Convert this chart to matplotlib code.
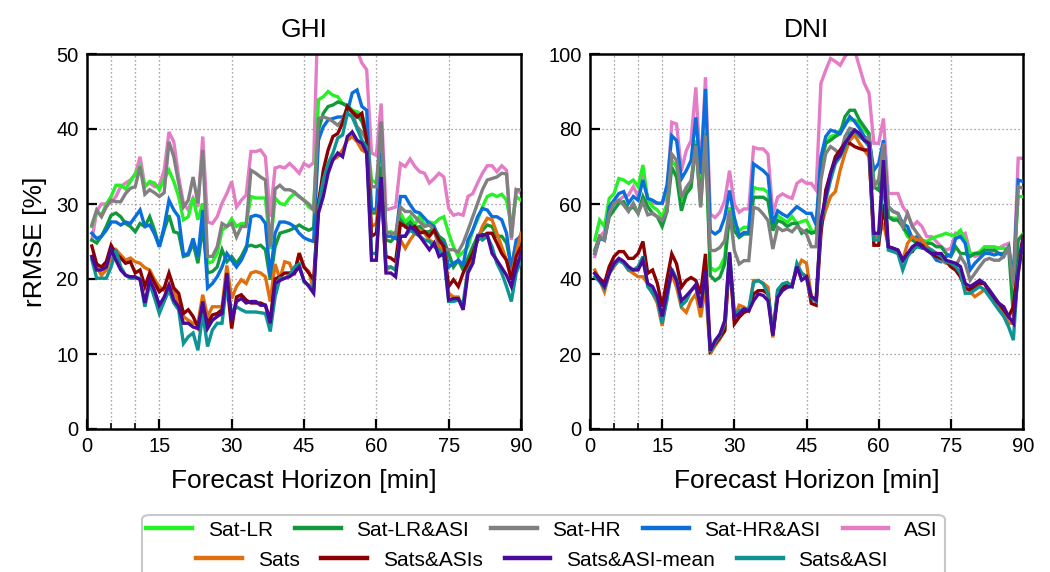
import matplotlib
matplotlib.use("Agg")
import matplotlib.pyplot as plt
from matplotlib.patches import FancyBboxPatch
from matplotlib.lines import Line2D
from matplotlib.ticker import MultipleLocator, FixedLocator

plt.rcParams['font.family'] = ['Liberation Sans', 'DejaVu Sans']

horizon = list(range(1, 91))

labels = ["Sat-LR", "Sat-LR&ASI", "Sat-HR", "Sat-HR&ASI", "ASI",
          "Sats", "Sats&ASIs", "Sats&ASI-mean", "Sats&ASI"]
colors = ["#26f026", "#129a3a", "#808080", "#0a6fdc", "#e47cc6",
          "#e0700e", "#8b0000", "#4a0a9c", "#0e9494"]

# ---------------- GHI ----------------
ghi_sat_lr = [27.0, 29.0, 28.5, 30.0, 31.0, 32.5, 32.5, 32.0, 33.0, 34.0,
              35.0, 32.3, 33.0, 32.8, 31.9, 33.3, 34.5, 33.0, 31.0, 27.9,
              28.3, 30.8, 27.9, 30.1, 22.1, 22.3, 23.4, 26.5, 27.0, 28.0,
              27.0, 27.4, 27.4, 31.0, 30.8, 30.8, 30.8, 24.0, 30.8, 30.1,
              29.9, 30.8, 31.4, 31.0, 30.5, 29.6, 29.2,
              43.9, 44.3, 45.0, 44.5, 44.3, 43.4, 43.2, 42.5, 42.3, 41.9,
              39.9, 33.2, 32.8, 38.0, 26.1, 26.3, 26.0, 28.8, 27.6, 28.3,
              27.2, 28.5, 27.2, 27.6, 27.4, 28.0, 28.3, 26.1, 24.3, 23.0,
              23.6, 24.3, 26.5, 27.9, 29.6, 31.0, 31.3, 31.0, 31.3, 30.5,
              27.0, 31.0, 30.5]
ghi_sat_lr_asi = [25.2, 24.8, 25.7, 27.0, 28.5, 28.8, 28.3, 27.4, 27.0, 26.3,
                  27.4, 27.0, 28.3, 26.5, 24.3, 26.5, 28.5, 26.3, 26.1, 23.0,
                  23.2, 24.8, 22.1, 27.0, 20.8, 21.0, 21.6, 23.9, 22.3, 23.0,
                  22.1, 23.0, 24.3, 24.5, 24.3, 24.5, 23.9, 19.9, 24.3, 26.1,
                  26.3, 26.5, 26.8, 27.2, 26.8, 26.5, 26.8,
                  39.9, 42.1, 43.0, 43.2, 43.6, 43.4, 43.0, 42.3, 41.9, 41.0,
                  39.0, 28.8, 28.8, 35.0, 25.2, 25.0, 25.7, 27.9, 27.0, 27.6,
                  26.8, 27.0, 26.3, 26.3, 26.8, 25.7, 25.2, 23.4, 21.6, 22.5,
                  21.2, 22.8, 24.3, 25.7, 26.5, 27.2, 27.0, 25.7, 25.7, 24.8,
                  21.6, 24.8, 25.9]
ghi_sat_hr = [27.2, 29.2, 28.3, 29.6, 30.5, 30.3, 30.3, 31.4, 32.1, 32.3,
              35.0, 31.3, 31.9, 31.5, 31.0, 31.5, 38.3, 36.3, 32.8, 29.6,
              30.5, 33.6, 30.1, 37.2, 23.0, 23.0, 24.3, 27.4, 27.0, 27.4,
              25.6, 27.0, 27.0, 34.5, 34.1, 33.6, 33.2, 24.3, 32.0, 32.5,
              31.9, 31.9, 31.6, 31.0, 30.5, 30.0, 29.2,
              41.4, 41.6, 41.4, 41.0, 40.5, 41.2, 43.0, 42.1, 40.3, 39.6,
              38.5, 32.3, 32.3, 41.0, 26.3, 26.1, 26.0, 29.6, 29.0, 29.0,
              28.3, 27.6, 27.0, 27.2, 26.5, 24.3, 23.9, 23.9, 23.9, 23.6,
              24.8, 26.5, 28.3, 30.1, 31.9, 33.2, 33.4, 33.6, 34.1, 34.0,
              25.5, 31.9, 31.9]
ghi_sat_hr_asi = [26.1, 25.4, 25.7, 26.5, 27.6, 27.6, 27.2, 27.6, 27.4, 28.3,
                  29.2, 27.0, 27.2, 26.0, 24.3, 27.0, 30.5, 29.2, 28.3, 23.2,
                  23.4, 25.4, 23.0, 29.2, 18.8, 19.4, 20.3, 21.6, 23.4, 22.5,
                  21.6, 22.5, 23.9, 28.3, 28.5, 28.3, 27.4, 20.3, 26.1, 27.6,
                  27.6, 27.4, 27.0, 26.1, 25.5, 25.2, 25.0,
                  38.5, 40.3, 41.2, 41.4, 41.6, 41.6, 42.3, 44.8, 45.2, 43.0,
                  42.5, 29.2, 29.4, 40.8, 25.7, 25.7, 25.4, 31.0, 31.0, 29.9,
                  29.0, 28.8, 28.1, 27.4, 27.0, 25.2, 24.8, 21.6, 22.1, 22.5,
                  21.9, 25.2, 26.5, 28.3, 29.4, 29.2, 28.3, 28.3, 27.9, 26.1,
                  21.2, 25.2, 25.7]
ghi_asi = [25.2, 29.0, 30.0, 30.0, 30.2, 31.0, 32.3, 32.8, 33.2, 34.0,
           36.3, 32.4, 32.8, 32.3, 32.5, 34.5, 39.6, 38.3, 33.6, 30.1,
           29.2, 30.8, 29.6, 39.0, 27.6, 27.4, 28.3, 30.1, 31.4, 33.0,
           29.6, 30.5, 31.2, 37.0, 37.0, 37.2, 36.3, 28.3, 34.8, 35.0,
           34.8, 35.4, 34.8, 34.1, 35.4, 35.0, 35.5,
           58.0, 62.0, 64.0, 63.0, 62.0, 60.0, 58.0, 55.0, 50.5, 48.8,
           47.9, 36.8, 36.5, 43.4, 29.2, 29.4, 29.6, 35.4, 35.0, 36.0,
           35.0, 34.3, 34.1, 32.8, 33.4, 34.1, 33.6, 29.4, 28.5, 28.7,
           28.5, 31.0, 31.4, 32.8, 34.1, 35.1, 35.1, 34.3, 35.1, 34.5,
           25.2, 31.9, 31.4]
ghi_sats = [23.0, 21.6, 20.5, 21.2, 23.0, 23.9, 23.2, 22.5, 22.8, 22.3,
            22.1, 21.5, 21.2, 19.9, 19.0, 18.5, 19.2, 18.5, 16.8, 15.0,
            14.5, 14.1, 14.1, 17.9, 15.0, 16.3, 16.3, 16.3, 21.8, 17.4,
            19.0, 19.9, 19.4, 20.8, 21.0, 20.8, 20.3, 17.0, 22.0, 20.0,
            22.3, 22.1, 20.5, 23.5, 21.6, 21.0, 18.5,
            30.5, 33.2, 35.0, 35.9, 36.3, 37.2, 38.5, 39.0, 38.3, 37.2,
            36.8, 27.0, 27.4, 33.0, 21.2, 21.6, 21.2, 25.2, 24.1, 25.2,
            26.1, 26.5, 26.1, 25.2, 24.8, 24.3, 23.9, 18.1, 17.6, 17.6,
            15.9, 21.6, 23.0, 25.2, 27.0, 28.1, 27.9, 26.1, 24.3, 22.5,
            20.3, 23.4, 26.1]
ghi_sats_asis = [24.4, 22.0, 21.6, 22.3, 24.5, 23.4, 22.8, 22.1, 22.3, 20.8,
                 21.2, 19.0, 20.8, 19.5, 18.3, 18.8, 20.8, 18.8, 18.1, 15.4,
                 15.9, 15.0, 13.6, 16.3, 14.1, 15.2, 15.4, 15.9, 19.5, 13.4,
                 17.6, 17.9, 17.2, 16.8, 16.8, 16.8, 16.5, 14.5, 20.0, 20.3,
                 20.8, 20.8, 20.8, 23.4, 21.6, 20.8, 19.9,
                 30.0, 34.5, 37.2, 39.0, 39.4, 40.8, 43.0, 42.3, 41.6, 42.1,
                 38.5, 25.7, 26.1, 33.0, 23.0, 22.8, 22.3, 27.4, 27.0, 26.5,
                 27.0, 26.1, 26.3, 25.7, 26.5, 25.2, 24.3, 19.0, 19.9, 19.0,
                 20.8, 22.1, 23.4, 25.2, 25.7, 26.1, 26.1, 24.8, 23.4, 22.5,
                 19.9, 23.0, 24.3]
ghi_sats_asi_mean = [23.0, 21.2, 21.2, 21.6, 23.9, 22.5, 21.2, 20.5, 20.3, 20.3,
                     19.9, 16.8, 19.9, 18.5, 16.5, 17.6, 19.2, 17.2, 16.3, 14.1,
                     14.1, 13.6, 13.4, 17.0, 13.4, 14.5, 15.0, 15.4, 20.8, 14.5,
                     17.0, 17.4, 16.8, 17.0, 17.0, 16.5, 16.5, 14.1, 19.4, 19.8,
                     20.1, 20.3, 20.8, 21.6, 19.8, 19.0, 18.1,
                     28.8, 31.0, 34.1, 35.9, 36.8, 36.3, 39.0, 39.6, 38.5, 38.1,
                     36.8, 22.5, 22.5, 33.6, 20.8, 20.8, 20.3, 25.7, 25.7, 27.0,
                     26.5, 25.7, 24.8, 23.9, 24.8, 23.0, 23.4, 17.2, 17.4, 17.4,
                     15.9, 20.8, 22.1, 25.7, 25.9, 25.9, 23.4, 22.5, 21.5, 20.5,
                     19.0, 21.5, 23.4]
ghi_sats_asi = [22.6, 20.1, 20.1, 20.1, 21.6, 23.9, 21.6, 20.5, 20.1, 20.1,
                20.1, 16.3, 19.4, 17.5, 15.4, 17.0, 18.5, 16.8, 15.9, 11.4,
                12.3, 12.8, 10.5, 15.4, 11.0, 13.2, 14.1, 14.1, 19.5, 15.4,
                16.3, 15.9, 15.6, 15.6, 15.6, 15.5, 15.4, 13.0, 17.6, 20.1,
                20.1, 20.5, 21.6, 22.0, 19.6, 19.2, 18.5,
                29.6, 33.2, 35.4, 36.8, 38.8, 39.2, 42.1, 41.6, 40.1, 38.5,
                37.6, 23.4, 23.4, 33.0, 21.6, 21.6, 21.2, 25.7, 25.7, 26.5,
                26.1, 25.7, 25.2, 25.0, 24.3, 23.9, 23.0, 17.0, 17.0, 17.2,
                16.8, 21.2, 22.1, 25.7, 25.2, 25.7, 24.3, 22.1, 20.8, 19.0,
                17.0, 20.8, 22.5]

# ---------------- DNI ----------------
dni_sat_lr = [50.4, 55.7, 54.0, 61.5, 62.8, 66.8, 66.4, 65.5, 66.4, 64.6,
              70.4, 61.0, 59.3, 58.4, 56.6, 60.0, 71.6, 69.8, 60.9, 63.6,
              65.3, 77.0, 62.0, 79.0, 43.1, 42.2, 43.1, 45.8, 59.1, 54.7,
              52.9, 53.8, 53.8, 64.4, 64.0, 64.0, 63.1, 53.3, 56.9, 56.0,
              55.1, 56.6, 54.8, 55.3, 55.7, 53.0, 52.2,
              70.0, 76.2, 78.0, 78.4, 79.7, 81.5, 82.4, 82.4, 81.5, 79.7,
              78.4, 66.4, 65.5, 75.0, 56.6, 56.2, 56.2, 54.0, 51.3, 50.4,
              50.8, 50.4, 50.0, 50.8, 51.3, 51.7, 52.2, 51.7, 51.7, 53.0,
              50.4, 46.8, 46.8, 47.3, 48.6, 48.6, 48.6, 48.2, 48.2, 47.7,
              41.5, 62.0, 62.0]
dni_sat_lr_asi = [47.7, 51.3, 50.4, 56.6, 58.4, 60.2, 60.6, 58.4, 59.3, 57.5,
                  62.0, 59.3, 57.5, 56.6, 54.0, 58.0, 69.8, 67.1, 58.2, 62.7,
                  64.4, 76.0, 60.0, 78.0, 40.9, 39.6, 40.5, 44.0, 57.3, 52.9,
                  51.1, 52.0, 52.0, 61.8, 61.8, 61.8, 60.9, 52.9, 55.6, 55.1,
                  54.0, 54.8, 54.8, 52.2, 53.0, 52.2, 52.6,
                  71.7, 76.2, 77.0, 78.0, 78.8, 83.3, 85.0, 85.0, 82.4, 80.6,
                  78.8, 64.6, 63.7, 74.0, 56.6, 55.7, 55.7, 54.0, 52.2, 50.4,
                  49.5, 48.6, 49.5, 49.5, 48.6, 48.6, 46.8, 46.0, 48.6, 46.8,
                  46.8, 46.0, 46.8, 46.8, 47.7, 47.7, 47.7, 46.8, 46.8, 48.6,
                  30.0, 50.4, 52.0]
dni_sat_hr = [46.8, 51.3, 50.4, 57.5, 60.2, 61.0, 59.7, 58.0, 60.2, 57.5,
              60.6, 57.1, 57.5, 56.6, 55.7, 58.0, 73.3, 71.6, 61.8, 64.4,
              66.2, 75.6, 59.1, 78.2, 47.6, 47.6, 48.4, 50.2, 58.2, 47.6,
              44.0, 44.9, 44.9, 59.1, 58.7, 57.3, 55.6, 48.0, 53.8, 52.9,
              53.3, 52.6, 54.0, 53.1, 52.0, 48.6, 48.6,
              66.4, 73.5, 75.3, 74.4, 73.1, 78.0, 80.2, 79.7, 78.8, 77.0,
              78.0, 64.6, 66.4, 76.2, 59.3, 58.0, 57.5, 54.0, 57.5, 54.0,
              52.2, 50.4, 48.6, 47.7, 46.8, 45.0, 44.2, 44.2, 43.3, 46.0,
              44.0, 39.7, 41.5, 43.3, 45.0, 45.5, 45.0, 45.0, 46.0, 48.6,
              38.0, 64.6, 64.2]
dni_sat_hr_asi = [46.8, 50.8, 50.4, 59.3, 61.0, 62.8, 63.3, 60.2, 62.0, 61.0,
                  66.4, 61.5, 61.0, 60.2, 60.2, 65.0, 78.2, 76.9, 66.7, 68.9,
                  71.6, 83.1, 68.0, 90.7, 52.9, 52.0, 52.9, 56.4, 63.6, 56.4,
                  51.6, 52.4, 52.4, 70.7, 69.8, 68.9, 67.6, 54.7, 58.2, 57.3,
                  56.6, 58.0, 59.3, 58.4, 57.5, 57.5, 54.4,
                  72.6, 78.0, 79.7, 79.3, 78.8, 81.0, 83.3, 82.0, 80.2, 78.0,
                  77.0, 69.0, 70.8, 77.0, 59.3, 58.0, 57.5, 54.8, 54.0, 50.8,
                  51.3, 48.6, 48.6, 46.8, 45.0, 44.6, 46.0, 46.4, 50.8, 51.3,
                  49.5, 42.4, 44.2, 45.5, 46.8, 46.8, 46.4, 46.8, 46.0, 48.6,
                  39.7, 66.4, 66.0]
dni_asi = [46.0, 51.3, 52.6, 59.3, 60.2, 61.0, 62.0, 62.4, 64.6, 62.0,
           68.2, 61.0, 60.2, 60.2, 60.2, 62.0, 81.8, 81.3, 68.9, 74.2,
           76.9, 91.1, 68.0, 93.8, 57.3, 56.4, 57.8, 60.9, 68.9, 60.0,
           57.8, 58.7, 58.7, 75.1, 74.7, 74.7, 73.3, 57.3, 61.8, 62.7,
           62.0, 61.5, 65.5, 66.4, 65.5, 65.5, 63.7,
           92.2, 95.7, 98.8, 98.0, 97.0, 99.3, 101.0, 101.0, 96.6, 92.2,
           89.5, 76.2, 76.2, 82.8, 62.8, 62.8, 62.8, 59.3, 57.5, 54.0,
           55.3, 54.0, 51.3, 51.3, 50.0, 48.6, 47.7, 48.2, 52.2, 51.7,
           52.2, 47.0, 46.0, 46.5, 47.0, 46.8, 47.7, 48.2, 49.0, 49.5,
           39.7, 72.2, 72.2]
dni_sats = [42.4, 39.7, 36.6, 41.5, 43.3, 45.0, 44.2, 42.4, 41.5, 40.6,
            40.6, 38.8, 36.2, 33.5, 27.5, 36.0, 41.3, 37.8, 32.4, 31.1,
            34.2, 36.0, 29.8, 37.8, 20.0, 22.2, 24.0, 26.2, 45.0, 29.5,
            33.0, 32.5, 31.5, 39.6, 39.6, 38.9, 37.8, 24.4, 36.9, 37.8,
            38.0, 38.8, 42.4, 45.0, 44.2, 35.3, 34.4,
            54.0, 58.4, 62.0, 63.3, 69.0, 73.5, 77.0, 78.4, 76.2, 74.4,
            72.6, 51.3, 51.3, 55.0, 48.6, 47.7, 46.8, 45.0, 49.5, 51.3,
            50.4, 50.4, 48.6, 47.7, 46.8, 46.0, 44.6, 43.3, 42.4, 40.6,
            38.0, 36.6, 35.3, 36.2, 37.1, 36.2, 34.4, 32.6, 30.8, 28.2,
            28.2, 41.5, 50.0]
dni_sats_asis = [41.5, 40.2, 38.8, 43.3, 46.0, 47.3, 47.3, 45.5, 45.5, 46.8,
                 50.0, 41.5, 42.4, 38.8, 32.6, 40.0, 46.7, 44.0, 37.8, 39.6,
                 40.4, 39.6, 36.0, 46.7, 20.9, 22.7, 24.4, 26.2, 45.5, 28.0,
                 29.8, 31.1, 31.6, 36.0, 36.9, 36.9, 36.0, 25.3, 36.0, 37.8,
                 38.7, 38.0, 43.3, 41.5, 40.6, 33.5, 33.0,
                 52.0, 63.7, 68.2, 72.6, 74.4, 76.2, 76.2, 75.3, 74.8, 74.4,
                 74.4, 49.0, 49.0, 60.0, 48.6, 48.2, 47.7, 45.0, 46.8, 47.3,
                 49.5, 49.0, 47.7, 46.8, 46.0, 45.5, 45.0, 43.3, 42.4, 40.6,
                 37.5, 37.1, 38.0, 38.8, 38.8, 36.2, 34.4, 33.5, 31.7, 30.0,
                 32.6, 43.3, 51.3]
dni_sats_asi_mean = [41.5, 39.7, 38.0, 41.5, 44.2, 45.5, 44.7, 43.3, 42.4, 42.4,
                     45.0, 38.8, 38.0, 35.3, 30.0, 36.2, 42.2, 39.6, 34.2, 35.5,
                     36.9, 38.5, 32.4, 42.2, 20.9, 23.6, 25.3, 28.9, 47.1, 29.8,
                     30.7, 32.0, 31.5, 34.2, 36.0, 35.6, 34.2, 24.9, 35.1, 36.9,
                     37.8, 38.0, 43.3, 39.7, 40.6, 35.3, 34.4,
                     55.7, 62.0, 68.2, 71.7, 73.1, 76.2, 78.0, 79.7, 78.8, 77.0,
                     76.2, 52.2, 52.2, 71.7, 48.6, 48.2, 47.7, 45.0, 46.8, 48.6,
                     49.5, 48.6, 47.7, 46.8, 46.8, 46.8, 45.0, 44.6, 44.2, 43.3,
                     38.8, 38.0, 38.8, 39.7, 38.8, 37.1, 35.3, 33.5, 32.6, 30.0,
                     28.2, 41.5, 50.4]
dni_sats_asi = [40.6, 39.3, 37.5, 41.5, 43.7, 45.0, 44.2, 42.4, 42.4, 43.3,
                46.0, 38.0, 36.2, 34.4, 28.2, 34.4, 42.7, 40.0, 32.9, 34.2,
                36.9, 38.0, 32.4, 41.3, 20.5, 23.1, 24.9, 28.0, 47.1, 30.7,
                31.6, 32.0, 32.0, 39.1, 39.6, 38.7, 36.0, 25.3, 37.1, 38.7,
                39.1, 38.0, 44.2, 41.5, 40.6, 35.0, 34.0,
                54.8, 61.0, 66.4, 70.8, 72.6, 75.3, 78.8, 79.7, 78.0, 77.0,
                75.3, 50.4, 50.4, 68.0, 47.7, 47.3, 46.8, 42.4, 46.0, 47.7,
                48.6, 48.2, 48.2, 47.7, 46.8, 46.0, 44.6, 44.2, 43.3, 41.5,
                36.2, 36.2, 37.1, 38.0, 37.1, 35.3, 33.5, 31.7, 30.0, 27.3,
                23.7, 43.3, 49.5]

ghi_series = [ghi_sat_lr, ghi_sat_lr_asi, ghi_sat_hr, ghi_sat_hr_asi, ghi_asi,
              ghi_sats, ghi_sats_asis, ghi_sats_asi_mean, ghi_sats_asi]
dni_series = [dni_sat_lr, dni_sat_lr_asi, dni_sat_hr, dni_sat_hr_asi, dni_asi,
              dni_sats, dni_sats_asis, dni_sats_asi_mean, dni_sats_asi]

x_major = [0, 15, 30, 45, 60, 75, 90]
x_minor = [5, 10]
# drawing order: ASI at the back, mean on top
zorders = [3, 4, 6, 5, 2, 7, 8, 10, 9]

fig = plt.figure(figsize=(10.5, 5.72), dpi=100)
W, H = 1050, 572
ax1 = fig.add_axes([87 / W, 1 - 429 / H, (521 - 87) / W, (429 - 54) / H])
ax2 = fig.add_axes([590 / W, 1 - 429 / H, (1023 - 590) / W, (429 - 54) / H])

for ax, series, title, ymax, ystep in [(ax1, ghi_series, "GHI", 50, 10),
                                       (ax2, dni_series, "DNI", 100, 20)]:
    for s, c, lab, z in zip(series, colors, labels, zorders):
        ax.plot(horizon, s, color=c, lw=2.4, label=lab, zorder=z,
                solid_joinstyle='miter')
    ax.set_xlim(0, 90)
    ax.set_ylim(0, ymax)
    ax.xaxis.set_major_locator(FixedLocator(x_major))
    ax.xaxis.set_minor_locator(FixedLocator(x_minor))
    ax.yaxis.set_major_locator(MultipleLocator(ystep))
    ax.grid(True, which='both', axis='x', linestyle=(0, (1, 2.2)),
            color='#8a8a8a', lw=0.9, zorder=0)
    ax.grid(True, which='major', axis='y', linestyle=(0, (1, 2.2)),
            color='#8a8a8a', lw=0.9, zorder=0)
    ax.set_axisbelow(True)
    ax.tick_params(which='major', direction='in', length=7, width=1.6,
                   labelsize=14.5, top=False, right=False, pad=6)
    ax.tick_params(which='minor', direction='in', length=4.5, width=1.2,
                   top=False, right=False)
    for sp in ax.spines.values():
        sp.set_linewidth(1.8)
    ax.set_title(title, fontsize=19, pad=12)
    ax.set_xlabel("Forecast Horizon [min]", fontsize=19, labelpad=9)

ax1.set_ylabel("rRMSE [%]", fontsize=19, labelpad=7)

# Legend: two centered rows inside one rounded frame
frame = FancyBboxPatch((142 / W, -0.05), (945 - 142) / W, 0.05 + 1 - 515 / H,
                       boxstyle="round,pad=0,rounding_size=0.008",
                       transform=fig.transFigure, facecolor='white',
                       edgecolor='#c8c8c8', lw=1.5, zorder=0)
fig.patches.append(frame)

handles = [Line2D([0], [0], color=c, lw=3.2) for c in colors]
leg_kw = dict(frameon=False, fontsize=15, handlelength=2.2, handletextpad=0.75,
              columnspacing=1.05, borderpad=0, borderaxespad=0, loc='center')
leg1 = fig.legend(handles[:5], labels[:5], ncol=5,
                  bbox_to_anchor=(542 / W, 1 - 530 / H), **leg_kw)
leg2 = fig.legend(handles[5:], labels[5:], ncol=4,
                  bbox_to_anchor=(542 / W, 1 - 560 / H), **leg_kw)

fig.savefig("out.png", dpi=100)
